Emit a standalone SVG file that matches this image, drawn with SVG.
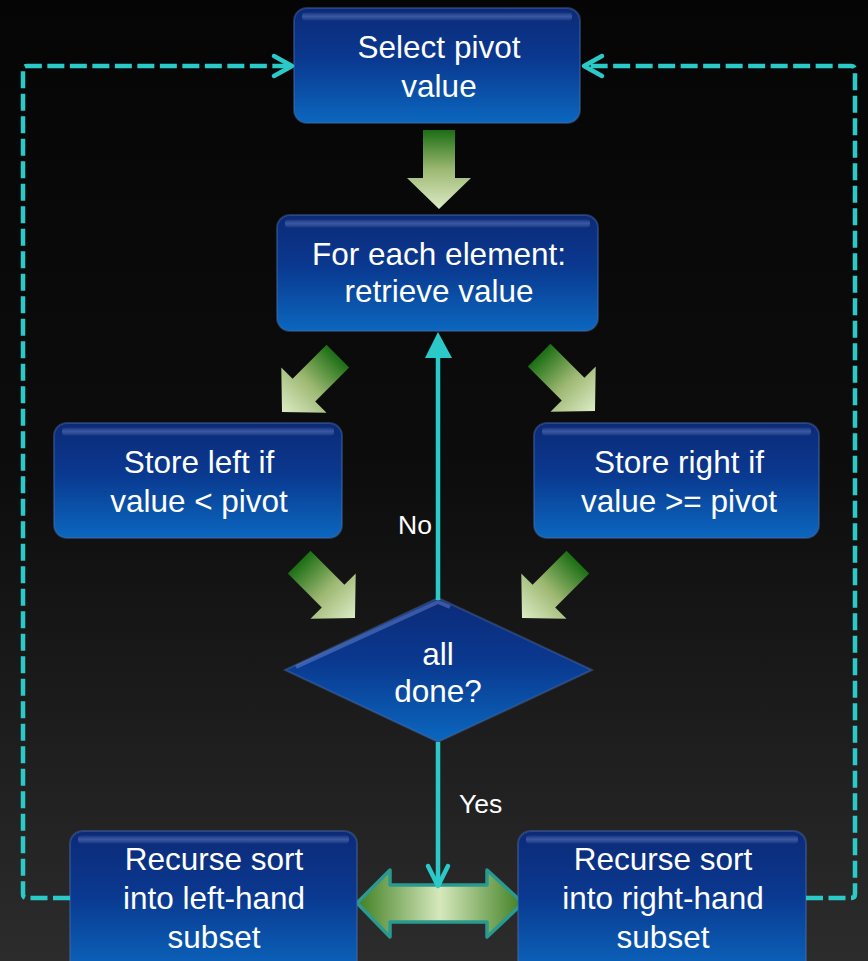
<svg xmlns="http://www.w3.org/2000/svg" width="868" height="961" viewBox="0 0 868 961">
  <style>
    .lbl { font-family: "Liberation Sans", Arial, sans-serif; fill: #ffffff; font-size: 31.5px; text-anchor: middle; }
    .edge { font-family: "Liberation Sans", Arial, sans-serif; fill: #ffffff; font-size: 26.5px; }
    .box { fill: url(#boxFill); stroke: #4a6aa8; stroke-opacity: 0.45; stroke-width: 2; }
    .shine { fill: url(#shineFill); }
    .dash { fill: none; stroke: #2cc9c9; stroke-width: 4.5; stroke-dasharray: 17 5.5; stroke-linejoin: round; }
    .chev { fill: none; stroke: #2cc9c9; stroke-width: 4.5; stroke-linecap: round; stroke-linejoin: round; }
    .solid { fill: none; stroke: #2cc9c9; stroke-width: 4.5; }
    .green { fill: url(#greenFill); }
  </style>
  <defs>
    <linearGradient id="bg" x1="0" y1="0" x2="0" y2="1">
      <stop offset="0" stop-color="#050505"/>
      <stop offset="0.5" stop-color="#0d0d0d"/>
      <stop offset="1" stop-color="#2c2c2c"/>
    </linearGradient>
    <linearGradient id="boxFill" x1="0" y1="0" x2="0" y2="1">
      <stop offset="0" stop-color="#0c2a78"/>
      <stop offset="0.45" stop-color="#0a3990"/>
      <stop offset="1" stop-color="#0b67bf"/>
    </linearGradient>
    <linearGradient id="shineFill" x1="0" y1="0" x2="0" y2="1">
      <stop offset="0" stop-color="#ffffff" stop-opacity="0"/>
      <stop offset="0.5" stop-color="#9fb8ff" stop-opacity="0.3"/>
      <stop offset="1" stop-color="#ffffff" stop-opacity="0"/>
    </linearGradient>
    <linearGradient id="greenFill" gradientUnits="userSpaceOnUse" x1="0" y1="-79" x2="0" y2="0">
      <stop offset="0" stop-color="#1b6e14"/>
      <stop offset="0.5" stop-color="#9db872"/>
      <stop offset="1" stop-color="#dcebc6"/>
    </linearGradient>
    <linearGradient id="dblFill" x1="0" y1="0" x2="1" y2="0">
      <stop offset="0" stop-color="#3f7f22"/>
      <stop offset="0.5" stop-color="#d6e8bc"/>
      <stop offset="1" stop-color="#3f7f22"/>
    </linearGradient>
    <!-- block arrow pointing down, tip at the origin -->
    <polygon id="blockArrow" points="-16,-79 16,-79 16,-31 32,-31 0,0 -32,-31 -16,-31"/>
  </defs>

  <rect width="868" height="961" fill="url(#bg)"/>

  <!-- flow arrows between steps -->
  <g id="flow-arrows" class="green">
    <use href="#blockArrow" transform="translate(439,209)"/>
    <use href="#blockArrow" transform="translate(282,412) rotate(45)"/>
    <use href="#blockArrow" transform="translate(595,411) rotate(-45)"/>
    <use href="#blockArrow" transform="translate(355,618) rotate(-45)"/>
    <use href="#blockArrow" transform="translate(522,618) rotate(45)"/>
  </g>

  <g id="select-pivot">
    <rect class="box" x="294" y="8" width="286" height="115" rx="13"/>
    <rect class="shine" x="302" y="12" width="270" height="9" rx="4"/>
    <text class="lbl" x="439" y="58">Select pivot</text>
    <text class="lbl" x="439" y="97">value</text>
  </g>

  <g id="for-each">
    <rect class="box" x="277" y="215" width="321" height="116" rx="13"/>
    <rect class="shine" x="285" y="219" width="305" height="9" rx="4"/>
    <text class="lbl" x="439" y="265">For each element:</text>
    <text class="lbl" x="439" y="302">retrieve value</text>
  </g>

  <g id="store-left">
    <rect class="box" x="54" y="423" width="288" height="115" rx="13"/>
    <rect class="shine" x="62" y="427" width="272" height="9" rx="4"/>
    <text class="lbl" x="199" y="473">Store left if</text>
    <text class="lbl" x="199" y="512">value &lt; pivot</text>
  </g>

  <g id="store-right">
    <rect class="box" x="534" y="423" width="285" height="115" rx="13"/>
    <rect class="shine" x="542" y="427" width="269" height="9" rx="4"/>
    <text class="lbl" x="679" y="473">Store right if</text>
    <text class="lbl" x="679" y="512">value &gt;= pivot</text>
  </g>

  <g id="all-done">
    <polygon class="box" points="438,598 592,670 438,742 285,670"/>
    <polyline points="296,667 438,602 450,607" fill="none" stroke="#7f9ce0" stroke-opacity="0.4" stroke-width="4"/>
    <text class="lbl" x="438" y="665">all</text>
    <text class="lbl" x="438" y="702">done?</text>
  </g>

  <!-- double-headed arrow between the two recursive calls -->
  <polygon id="split-arrow" points="357,903 390,870 390,885 487,885 487,870 523,903 487,937 487,922 390,922 390,937" fill="url(#dblFill)" stroke="#2a9a90" stroke-width="3.5" stroke-linejoin="round"/>

  <g id="recurse-left">
    <rect class="box" x="70" y="831" width="287" height="145" rx="13"/>
    <rect class="shine" x="78" y="835" width="271" height="9" rx="4"/>
    <text class="lbl" x="214" y="870">Recurse sort</text>
    <text class="lbl" x="214" y="909">into left-hand</text>
    <text class="lbl" x="214" y="948">subset</text>
  </g>

  <g id="recurse-right">
    <rect class="box" x="518" y="831" width="288" height="145" rx="13"/>
    <rect class="shine" x="526" y="835" width="272" height="9" rx="4"/>
    <text class="lbl" x="663" y="870">Recurse sort</text>
    <text class="lbl" x="663" y="909">into right-hand</text>
    <text class="lbl" x="663" y="948">subset</text>
  </g>

  <g id="connectors">
    <!-- No: back up to the next element -->
    <line class="solid" x1="438" y1="600" x2="438" y2="352"/>
    <polygon points="438,332 452,358 425,358" fill="#2cc9c9"/>
    <!-- Yes: down to the recursion -->
    <line class="solid" x1="438" y1="742" x2="438" y2="884"/>
    <polyline class="chev" points="428,866 438,886 448,866"/>
    <!-- recursion loops back to pivot selection -->
    <path class="dash" d="M70,898 H27 Q23,898 23,894 V70 Q23,66 27,66 H290"/>
    <polyline class="chev" points="274,56 292,66 274,76"/>
    <path class="dash" d="M806,898 H851 Q855,898 855,894 V70 Q855,66 851,66 H586"/>
    <polyline class="chev" points="602,56 584,66 602,76"/>
    <text class="edge" x="398" y="534">No</text>
    <text class="edge" x="459" y="813">Yes</text>
  </g>
</svg>
